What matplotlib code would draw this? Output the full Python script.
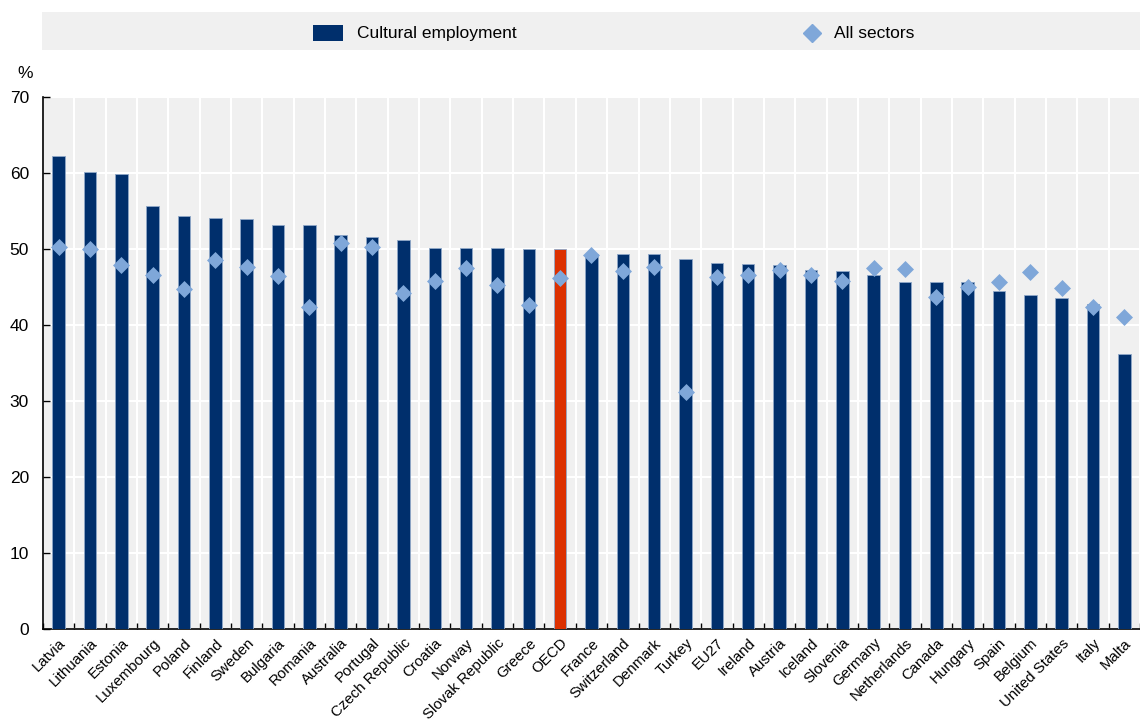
import matplotlib
matplotlib.use("Agg")
import matplotlib.pyplot as plt
from matplotlib.patches import Rectangle
import numpy as np
from matplotlib import font_manager

countries = ["Latvia", "Lithuania", "Estonia", "Luxembourg", "Poland", "Finland", "Sweden",
             "Bulgaria", "Romania", "Australia", "Portugal", "Czech Republic", "Croatia", "Norway",
             "Slovak Republic", "Greece", "OECD", "France", "Switzerland", "Denmark", "Turkey",
             "EU27", "Ireland", "Austria", "Iceland", "Slovenia", "Germany", "Netherlands",
             "Canada", "Hungary", "Spain", "Belgium", "United States", "Italy", "Malta"]
cultural = [62.2, 60.1, 59.9, 55.7, 54.4, 54.1, 53.9, 53.2, 53.2, 51.9, 51.6, 51.2, 50.1, 50.1,
            50.1, 50.0, 50.0, 49.4, 49.4, 49.3, 48.7, 48.1, 48.0, 47.9, 47.3, 47.1, 46.6, 45.7,
            45.7, 45.6, 44.5, 43.9, 43.6, 42.8, 36.2]
all_sectors = [50.2, 50.0, 47.9, 46.6, 44.8, 48.5, 47.6, 46.5, 42.4, 50.8, 50.2, 44.2, 45.8, 47.5,
               45.3, 42.6, 46.2, 49.2, 47.1, 47.6, 31.2, 46.3, 46.6, 47.2, 46.6, 45.8, 47.5, 47.4,
               43.7, 45.0, 45.7, 47.0, 44.9, 42.4, 41.0]
yticks = [0, 10, 20, 30, 40, 50, 60, 70]

names = {f.name for f in font_manager.fontManager.ttflist}
fam = "Liberation Sans Narrow" if "Liberation Sans Narrow" in names else "Liberation Sans"
plt.rcParams['font.family'] = [fam, 'DejaVu Sans']

NAVY = "#002F6C"
RED = "#DC3000"
LIGHT = "#7FA7D9"
BG = "#F0F0F0"

fig = plt.figure(figsize=(11.4, 7.2), dpi=100)
ax = fig.add_axes([0.0377, 0.1264, 0.9623, 0.7389])
ax.set_facecolor(BG)

x = np.arange(len(countries))
colors = [RED if c == "OECD" else NAVY for c in countries]
ax.bar(x, cultural, width=0.4, color=colors, edgecolor="#8FA8C8", linewidth=0.6, zorder=3)
ax.scatter(x, all_sectors, marker="D", s=75, color=LIGHT, zorder=4, linewidths=0)

ax.set_xlim(-0.5, len(countries) - 0.5)
ax.set_ylim(0, 70)
ax.set_yticks(yticks)
ax.set_yticklabels([str(v) for v in yticks], fontsize=12.5)
ax.set_xticks(x)
ax.set_xticklabels(countries, rotation=45, ha="right", va="top", rotation_mode="anchor",
                   fontsize=10.8)
ax.tick_params(axis="x", which="major", length=0, pad=5)
ax.set_xticks(np.arange(-0.5, len(countries), 1), minor=True)
ax.tick_params(axis="x", which="minor", length=4, direction="in", color="black", width=1)
ax.tick_params(axis="y", length=5, direction="in", width=1, pad=10)

ax.grid(axis="y", color="white", linewidth=1.5, zorder=1)
ax.grid(axis="x", which="minor", color="white", linewidth=1.5, zorder=1)
ax.set_axisbelow(True)
for s in ["top", "right"]:
    ax.spines[s].set_visible(False)
ax.spines["left"].set_linewidth(1.2)
ax.spines["bottom"].set_linewidth(1.2)

fig.text(0.022, 0.898, "%", fontsize=12.5, ha="center", va="center")

# legend band (figure pixel coordinates mapped to a 1140x720 axes)
lax = fig.add_axes([0, 0, 1, 1], zorder=-1)
lax.set_xlim(0, 1140)
lax.set_ylim(720, 0)
lax.axis("off")
lax.add_patch(Rectangle((42, 12), 1098, 38, facecolor=BG, edgecolor="none"))
lax.add_patch(Rectangle((313, 25), 30, 16, facecolor=NAVY, edgecolor="none"))
lax.text(357, 33.5, "Cultural employment", fontsize=12.5, ha="left", va="center")
lax.plot([812], [33], marker="D", markersize=9, color=LIGHT, linestyle="none")
lax.text(834, 33.5, "All sectors", fontsize=12.5, ha="left", va="center")

fig.savefig("out.png", dpi=100)
